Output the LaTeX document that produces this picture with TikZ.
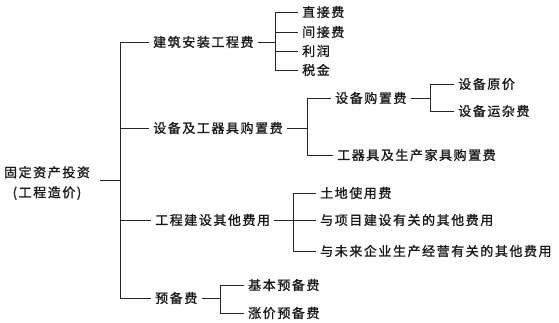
\documentclass[tikz,border=0pt]{standalone}
\usepackage{fontspec}
\newfontfamily\cjk[LetterSpace=12,FakeBold=1.2]{Noto Sans CJK SC}
\begin{document}
\begin{tikzpicture}[x=1pt,y=-1pt,
  lab/.style={anchor=west,inner xsep=4pt,inner ysep=0pt,font=\cjk\fontsize{13}{15}\selectfont,text=black!90},
  conn/.style={draw=black!85,line width=0.9pt}]
\useasboundingbox (0,0) rectangle (559,323);
% root
\node[font=\cjk\fontsize{13}{20}\selectfont,align=center,inner sep=0pt,text=black!90] (root) at (47,183) {固定资产投资\\(工程造价)};
\coordinate (r) at (100,180);
\coordinate (s0) at (120,180);
\coordinate (st) at (120,42);
\coordinate (sb) at (120,298);
% level 1
\node[lab] (a) at (149,42) {建筑安装工程费};
\node[lab] (b) at (149,128) {设备及工器具购置费};
\node[lab] (c) at (151,220) {工程建设其他费用};
\node[lab] (d) at (151,298) {预备费};
% level 2
\node[lab] (a1) at (298,12) {直接费};
\node[lab] (a2) at (298,32) {间接费};
\node[lab] (a3) at (298,51) {利润};
\node[lab] (a4) at (298,70) {税金};
\node[lab] (b1) at (331,98) {设备购置费};
\node[lab] (b2) at (333,155) {工器具及生产家具购置费};
\node[lab] (c1) at (316,193) {土地使用费};
\node[lab] (c2) at (316,220) {与项目建设有关的其他费用};
\node[lab] (c3) at (316,251) {与未来企业生产经营有关的其他费用};
\node[lab] (d1) at (244,285) {基本预备费};
\node[lab] (d2) at (244,313) {涨价预备费};
% level 3
\node[lab] (b11) at (454,84) {设备原价};
\node[lab] (b12) at (454,111) {设备运杂费};
% junctions
\coordinate (ja) at (275,42);
\coordinate (jb) at (307,128);
\coordinate (jb1) at (430,98);
\coordinate (jc) at (293,220);
\coordinate (jd) at (220,298);
% connectors
\draw[conn] (r) -- (s0);
\draw[conn] (st) -- (sb);
\draw[conn] (st) -- (a.west);
\draw[conn] (st |- b.west) -- (b.west);
\draw[conn] (st |- c.west) -- (c.west);
\draw[conn] (sb) -- (d.west);
% a group
\draw[conn] (a.east) -- (ja);
\draw[conn] (ja |- a1.west) -- (ja |- a4.west);
\foreach \n in {a1,a2,a3,a4} \draw[conn] (ja |- \n.west) -- (\n.west);
% b group
\draw[conn] (b.east) -- (jb);
\draw[conn] (jb |- b1.west) -- (jb |- b2.west);
\draw[conn] (jb |- b1.west) -- (b1.west);
\draw[conn] (jb |- b2.west) -- (b2.west);
\draw[conn] (b1.east) -- (jb1);
\draw[conn] (jb1 |- b11.west) -- (jb1 |- b12.west);
\draw[conn] (jb1 |- b11.west) -- (b11.west);
\draw[conn] (jb1 |- b12.west) -- (b12.west);
% c group
\draw[conn] (c.east) -- (jc);
\draw[conn] (jc |- c1.west) -- (jc |- c3.west);
\foreach \n in {c1,c2,c3} \draw[conn] (jc |- \n.west) -- (\n.west);
% d group
\draw[conn] (d.east) -- (jd);
\draw[conn] (jd |- d1.west) -- (jd |- d2.west);
\draw[conn] (jd |- d1.west) -- (d1.west);
\draw[conn] (jd |- d2.west) -- (d2.west);
\end{tikzpicture}
\end{document}
